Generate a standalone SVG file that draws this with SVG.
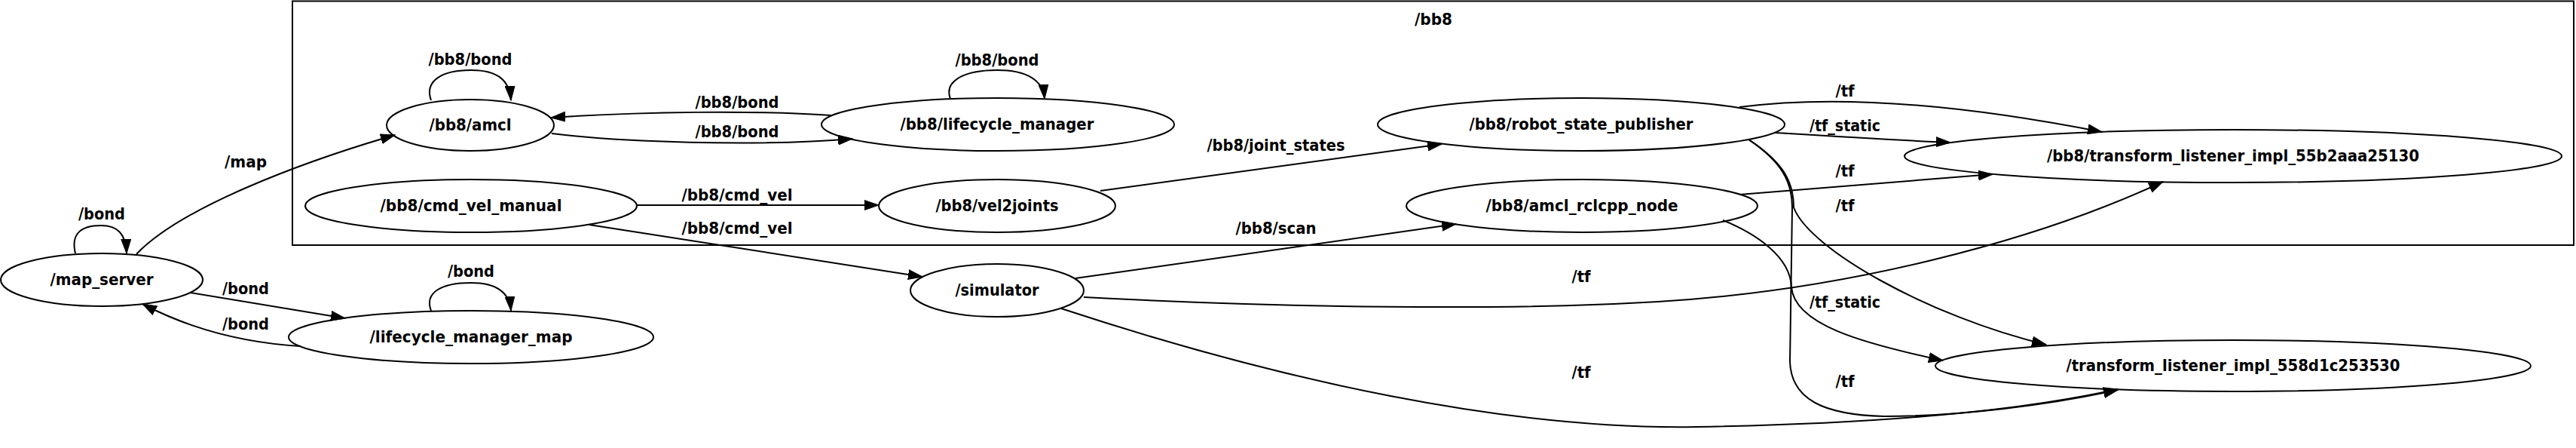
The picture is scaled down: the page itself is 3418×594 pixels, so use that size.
<svg xmlns="http://www.w3.org/2000/svg" width="3418" height="594" viewBox="0 0 3418 594">
<style>
  .n ellipse { fill: none; stroke: #000; stroke-width: 2; }
  text { font-family: "DejaVu Sans", "Liberation Sans", sans-serif; font-weight: bold; font-size: 21px; text-anchor: middle; fill: #000; lengthAdjust: spacingAndGlyphs; }
  .e path { fill: none; stroke: #000; stroke-width: 2; marker-end: url(#arr); }
  .cl { fill: none; stroke: #000; stroke-width: 2; }
</style>
<defs>
  <marker id="arr" markerUnits="userSpaceOnUse" markerWidth="20" markerHeight="14" refX="19" refY="7" orient="auto">
    <path d="M0,0.5 L19,7 L0,13.5 z" fill="#000" stroke="#000" stroke-width="1"/>
  </marker>
</defs>
<rect width="3418" height="594" fill="#fff"/>

<g id="cluster_bb8">
  <rect class="cl" x="388" y="1.5" width="3027" height="323.5"/>
  <text x="1902" y="33" textLength="50" lengthAdjust="spacingAndGlyphs">/bb8</text>
</g>

<g id="connectors" class="e">
  <!-- self loops -->
  <path d="M100,336 C94,311 106,299 134,299 C156,299 167,310 168,336"/>
  <text x="135" y="291" textLength="62" lengthAdjust="spacingAndGlyphs">/bond</text>
  <path d="M572,133 C563,108 585,93 625,93 C660,93 676,106 678,133"/>
  <text x="624" y="86" textLength="111" lengthAdjust="spacingAndGlyphs">/bb8/bond</text>
  <path d="M1261,131 C1252,107 1280,93 1323,93 C1362,93 1384,106 1386,131"/>
  <text x="1323" y="87" textLength="111" lengthAdjust="spacingAndGlyphs">/bb8/bond</text>
  <path d="M572,412 C563,388 585,375 625,375 C660,375 676,388 678,412"/>
  <text x="625" y="367" textLength="62" lengthAdjust="spacingAndGlyphs">/bond</text>

  <!-- /map -->
  <path d="M181,337 C240,275 400,215 524,179"/>
  <text x="326" y="222" textLength="56" lengthAdjust="spacingAndGlyphs">/map</text>

  <!-- map_server <-> lifecycle_manager_map -->
  <path d="M252,388 L458,422"/>
  <text x="326" y="390" textLength="62" lengthAdjust="spacingAndGlyphs">/bond</text>
  <path d="M399,459 C330,455 260,440 189,403"/>
  <text x="326" y="437" textLength="62" lengthAdjust="spacingAndGlyphs">/bond</text>

  <!-- amcl <-> lifecycle_manager -->
  <path d="M1103,153 C1000,146 850,148 731,156"/>
  <text x="978" y="143" textLength="111" lengthAdjust="spacingAndGlyphs">/bb8/bond</text>
  <path d="M732,177 C820,188 1000,195 1131,184"/>
  <text x="978" y="182" textLength="111" lengthAdjust="spacingAndGlyphs">/bb8/bond</text>

  <!-- cmd_vel -->
  <path d="M845,272 L1166,272"/>
  <text x="978" y="266" textLength="147" lengthAdjust="spacingAndGlyphs">/bb8/cmd_vel</text>
  <path d="M782,298 L1224,367"/>
  <text x="978" y="310" textLength="147" lengthAdjust="spacingAndGlyphs">/bb8/cmd_vel</text>

  <!-- joint_states, scan -->
  <path d="M1460,253 L1913,191"/>
  <text x="1693" y="200" textLength="183" lengthAdjust="spacingAndGlyphs">/bb8/joint_states</text>
  <path d="M1427,369 L1932,297"/>
  <text x="1693" y="310" textLength="107" lengthAdjust="spacingAndGlyphs">/bb8/scan</text>

  <!-- simulator -> tf listeners -->
  <path d="M1438,394 C1700,408 2000,412 2200,400 C2450,385 2700,320 2870,241"/>
  <text x="2098" y="374" textLength="25" lengthAdjust="spacingAndGlyphs">/tf</text>
  <path d="M1408,409 C1700,505 2000,570 2250,566 C2500,562 2680,545 2810,516"/>
  <text x="2098" y="501" textLength="25" lengthAdjust="spacingAndGlyphs">/tf</text>

  <!-- robot_state_publisher -> tl55b2 -->
  <path d="M2308,142 C2400,130 2550,128 2789,175"/>
  <text x="2448" y="128" textLength="25" lengthAdjust="spacingAndGlyphs">/tf</text>
  <path d="M2355,176 C2420,180 2500,185 2588,189"/>
  <text x="2448" y="174" textLength="94" lengthAdjust="spacingAndGlyphs">/tf_static</text>

  <!-- amcl_rclcpp_node -> listeners -->
  <path d="M2308,258 L2644,231"/>
  <text x="2448" y="234" textLength="25" lengthAdjust="spacingAndGlyphs">/tf</text>
  <path d="M2286,292 C2330,310 2375,340 2377,380 C2380,430 2470,455 2578,478"/>
  <text x="2448" y="280" textLength="25" lengthAdjust="spacingAndGlyphs">/tf</text>

  <!-- robot_state_publisher -> tl558d -->
  <path d="M2322,186 C2365,215 2380,240 2380,275 C2400,330 2560,420 2715,457"/>
  <text x="2448" y="408" textLength="94" lengthAdjust="spacingAndGlyphs">/tf_static</text>
  <path d="M2320,185 C2363,214 2378,240 2378,275 L2375,480 C2377,530 2420,550 2500,552 C2600,552 2720,537 2810,517"/>
  <text x="2448" y="513" textLength="25" lengthAdjust="spacingAndGlyphs">/tf</text>
</g>

<g id="map_server" class="n">
  <ellipse cx="135" cy="371" rx="134" ry="35"/>
  <text x="135" y="378" textLength="137" lengthAdjust="spacingAndGlyphs">/map_server</text>
</g>
<g id="lifecycle_manager_map" class="n">
  <ellipse cx="625" cy="447" rx="242" ry="35"/>
  <text x="625" y="454" textLength="269" lengthAdjust="spacingAndGlyphs">/lifecycle_manager_map</text>
</g>
<g id="bb8_amcl" class="n">
  <ellipse cx="624" cy="166" rx="111" ry="34"/>
  <text x="624" y="173" textLength="109" lengthAdjust="spacingAndGlyphs">/bb8/amcl</text>
</g>
<g id="bb8_cmd_vel_manual" class="n">
  <ellipse cx="625" cy="273" rx="220" ry="35"/>
  <text x="625" y="280" textLength="241" lengthAdjust="spacingAndGlyphs">/bb8/cmd_vel_manual</text>
</g>
<g id="bb8_lifecycle_manager" class="n">
  <ellipse cx="1324" cy="165" rx="234" ry="35"/>
  <text x="1323" y="172" textLength="257" lengthAdjust="spacingAndGlyphs">/bb8/lifecycle_manager</text>
</g>
<g id="bb8_vel2joints" class="n">
  <ellipse cx="1323" cy="273" rx="157" ry="35"/>
  <text x="1323" y="280" textLength="163" lengthAdjust="spacingAndGlyphs">/bb8/vel2joints</text>
</g>
<g id="simulator" class="n">
  <ellipse cx="1323" cy="385" rx="115" ry="35"/>
  <text x="1323" y="392" textLength="111" lengthAdjust="spacingAndGlyphs">/simulator</text>
</g>
<g id="bb8_robot_state_publisher" class="n">
  <ellipse cx="2098" cy="165" rx="270" ry="35"/>
  <text x="2098" y="172" textLength="297" lengthAdjust="spacingAndGlyphs">/bb8/robot_state_publisher</text>
</g>
<g id="bb8_amcl_rclcpp_node" class="n">
  <ellipse cx="2099" cy="273" rx="233" ry="35"/>
  <text x="2099" y="280" textLength="255" lengthAdjust="spacingAndGlyphs">/bb8/amcl_rclcpp_node</text>
</g>
<g id="bb8_transform_listener_impl_55b2aaa25130" class="n">
  <ellipse cx="2963" cy="207" rx="436" ry="35"/>
  <text x="2963" y="214" textLength="494" lengthAdjust="spacingAndGlyphs">/bb8/transform_listener_impl_55b2aaa25130</text>
</g>
<g id="transform_listener_impl_558d1c253530" class="n">
  <ellipse cx="2963" cy="485" rx="395" ry="34"/>
  <text x="2963" y="492" textLength="443" lengthAdjust="spacingAndGlyphs">/transform_listener_impl_558d1c253530</text>
</g>
</svg>
